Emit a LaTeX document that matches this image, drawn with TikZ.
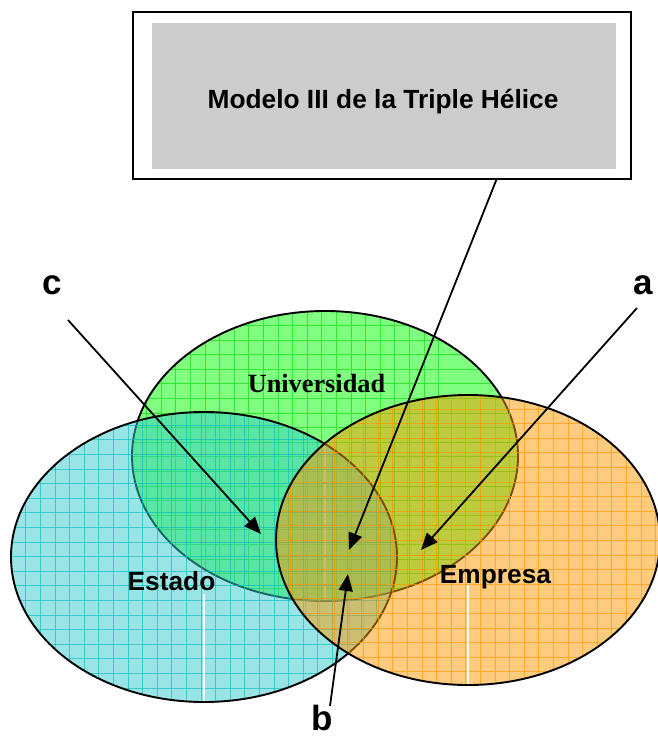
\documentclass[tikz,border=0pt]{standalone}
\usepackage{fontspec}
\setmainfont{Liberation Sans}
\newfontfamily\timesf{Liberation Serif}
\usetikzlibrary{arrows.meta}
\definecolor{ugreen}{RGB}{128,255,128}
\definecolor{ugrid}{RGB}{50,230,50}
\definecolor{ecyan}{RGB}{51,204,204}
\definecolor{egrid}{RGB}{0,185,190}
\definecolor{morange}{RGB}{255,153,0}
\definecolor{mgrid}{RGB}{255,150,0}
\definecolor{boxgray}{RGB}{204,204,204}
\tikzset{
  border/.style={draw=black, line width=1.9pt},
  gridline/.style={line width=0.75pt},
  arr/.style={line width=1.8pt, -{Triangle[length=17pt,width=14pt]}},
  lbl/.style={font=\bfseries\fontsize{26.3}{30}\selectfont, inner sep=0pt, anchor=base},
  letter/.style={font=\bfseries\fontsize{35}{40}\selectfont, inner sep=0pt, anchor=base},
}
\begin{document}
\begin{tikzpicture}[x=1pt,y=-1pt]
\useasboundingbox (0,0) rectangle (657,736);
% ---------- Universidad (bottom layer)
\fill[ugreen] (325,456) ellipse [x radius=193, y radius=145];
\begin{scope}
  \clip (325,456) ellipse [x radius=193, y radius=145];
  \foreach \i in {-10,...,24} {
    \draw[gridline, ugrid] ({205+(\i-8)*14.6},300) -- ({205+(\i-8)*14.6},610);
  }
  \foreach \j in {-2,...,20} {
    \draw[gridline, ugrid] (120,{340+\j*14.6}) -- (530,{340+\j*14.6});
  }
\end{scope}
\draw[border] (325,456) ellipse [x radius=193, y radius=145];
\draw[white, line width=1.5pt] (325,446) -- (325,600);
% ---------- Estado
\fill[ecyan, opacity=0.5] (204,557) ellipse [x radius=193, y radius=145];
\begin{scope}[opacity=0.6]
  \clip (204,557) ellipse [x radius=193, y radius=145];
  \foreach \i in {-4,...,24} {
    \draw[gridline, egrid] ({55+\i*14.6},400) -- ({55+\i*14.6},710);
  }
  \foreach \j in {-10,...,14} {
    \draw[gridline, egrid] (5,{527.3+\j*14.6}) -- (405,{527.3+\j*14.6});
  }
\end{scope}
\draw[border] (204,557) ellipse [x radius=193, y radius=145];
\draw[white, line width=1.5pt] (204,594) -- (204,701);
% ---------- Empresa
\fill[morange, opacity=0.5] (468,540) ellipse [x radius=192, y radius=145];
\begin{scope}[opacity=0.65]
  \clip (468,540) ellipse [x radius=192, y radius=145];
  \foreach \i in {-20,...,10} {
    \draw[gridline, mgrid] ({553.3+\i*14.6},390) -- ({553.3+\i*14.6},690);
  }
  \foreach \j in {-10,...,12} {
    \draw[gridline, mgrid] (270,{525.7+\j*14.6}) -- (665,{525.7+\j*14.6});
  }
\end{scope}
\draw[border] (468,540) ellipse [x radius=192, y radius=145];
\draw[white, line width=1.5pt] (468,585) -- (468,684);
% ---------- texts in ellipses
\node[lbl, font=\timesf\bfseries\fontsize{26.3}{30}\selectfont] (univ) at (316.5,392.5) {Universidad};
\node[lbl] (estado) at (171.5,590) {Estado};
\node[lbl] (empresa) at (495.5,583.3) {Empresa};
% ---------- title box
\node[draw=black, line width=1.8pt, fill=white, minimum width=498pt, minimum height=167pt, inner sep=0pt] (outer) at (382,95.5) {};
\node[fill=boxgray, minimum width=464pt, minimum height=146pt, inner sep=0pt] (inner) at (384,96) {};
\node[lbl] (title) at (383,108) {Modelo III de la Triple Hélice};
% ---------- arrow ends
\coordinate (boxfoot) at (496.5,179.5);
\coordinate (tipm) at (349,550);
\coordinate (astart) at (637,308);
\coordinate (tipa) at (421,550);
\coordinate (cstart) at (68,320);
\coordinate (tipc) at (261,534);
\coordinate (bstart) at (330,706);
\coordinate (tipb) at (348,574);
\node[letter] (la) at (643,294) {a};
\node[letter] (lc) at (52,294) {c};
\node[letter] (lb) at (322,730) {b};
\draw[arr] (boxfoot) -- (tipm);
\draw[arr] (astart) -- (tipa);
\draw[arr] (cstart) -- (tipc);
\draw[arr] (bstart) -- (tipb);
\end{tikzpicture}
\end{document}
